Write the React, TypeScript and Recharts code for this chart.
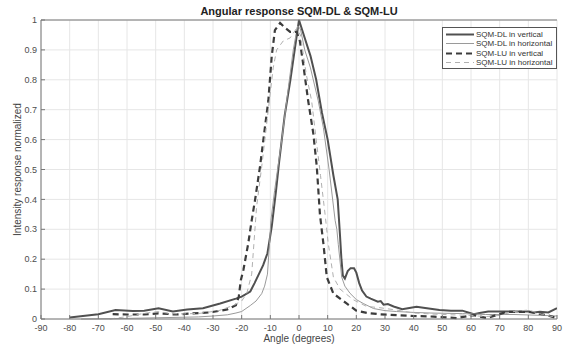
import React from 'react';
import { LineChart, Line, XAxis, YAxis, CartesianGrid, Legend, Label } from 'recharts';

const xTicks = [-90, -80, -70, -60, -50, -40, -30, -20, -10, 0, 10, 20, 30, 40, 50, 60, 70, 80, 90];
const yTicks = [0, 0.1, 0.2, 0.3, 0.4, 0.5, 0.6, 0.7, 0.8, 0.9, 1];

const titleText = 'Angular response SQM-DL & SQM-LU';
const xLabelText = 'Angle (degrees)';
const yLabelText = 'Intensity response normalized';

const seriesNames = ['SQM-DL in vertical', 'SQM-DL in horizontal', 'SQM-LU in vertical', 'SQM-LU in horizontal'];

const dlVerticalPts: [number, number][] = [
  [-80, 0.005], [-70, 0.016], [-64, 0.03], [-58, 0.027], [-54, 0.028], [-49, 0.036], [-44, 0.025],
  [-39, 0.032], [-33.5, 0.036], [-27.5, 0.052], [-22, 0.068], [-20, 0.075], [-17, 0.092], [-15.5, 0.12],
  [-14, 0.15], [-12.5, 0.18], [-11, 0.22], [-9.5, 0.31], [-8, 0.43], [-7, 0.52], [-5, 0.68], [-3, 0.8],
  [-1.5, 0.9], [0, 1.0], [2, 0.94], [4, 0.88], [6, 0.8], [8, 0.69], [10, 0.6], [12, 0.48], [13.5, 0.4],
  [14.3, 0.28], [14.8, 0.2], [15.3, 0.145], [16, 0.135], [17, 0.16], [18, 0.17], [19.2, 0.17], [20, 0.155],
  [21, 0.12], [22, 0.095], [23.5, 0.075], [25, 0.068], [27.5, 0.058], [28.5, 0.06], [29.5, 0.048], [31, 0.05],
  [33, 0.042], [36, 0.033], [38, 0.036], [41, 0.041], [44, 0.037], [49, 0.03], [53, 0.028], [57, 0.028],
  [59, 0.022], [61, 0.016], [63, 0.02], [66, 0.025], [70, 0.025], [75, 0.025], [80, 0.025], [82, 0.022],
  [84, 0.024], [87, 0.022], [90, 0.036],
];

const dlHorizontalPts: [number, number][] = [
  [-76, 0], [-65, 0.001], [-60, 0.002], [-50, 0.004], [-40, 0.006], [-35, 0.007], [-30, 0.01], [-25, 0.014],
  [-22, 0.02], [-20, 0.025], [-17, 0.045], [-15, 0.06], [-13, 0.085], [-12, 0.11], [-11, 0.15], [-10.3, 0.25],
  [-9.8, 0.33], [-8.5, 0.43], [-6, 0.6], [-4.3, 0.73], [-2, 0.9], [-0.5, 0.98], [0.5, 0.97], [2, 0.9],
  [4, 0.84], [6.7, 0.73], [8.5, 0.64], [10.5, 0.5], [12.6, 0.33], [13.2, 0.3], [13.7, 0.25], [14.9, 0.14],
  [16, 0.11], [17.8, 0.086], [20, 0.065], [22.4, 0.052], [26, 0.035], [30, 0.028], [34, 0.025], [40, 0.022],
  [46, 0.02], [57, 0.018], [65, 0.015], [75, 0.015], [85, 0.012], [90, 0.01],
];

const luVerticalPts: [number, number][] = [
  [-65, 0.016], [-60, 0.015], [-54, 0.015], [-49, 0.019], [-43, 0.015], [-37, 0.019], [-31, 0.022],
  [-25, 0.032], [-22, 0.046], [-21, 0.075], [-20.3, 0.13], [-19.4, 0.164], [-17.7, 0.253], [-16.5, 0.33],
  [-15.3, 0.4], [-13.6, 0.51], [-11.9, 0.64], [-10.7, 0.73], [-9.5, 0.88], [-8.4, 0.966], [-6.6, 0.99],
  [-5, 0.975], [-3.1, 0.96], [-0.8, 0.96], [0.3, 0.93], [1.5, 0.85], [3.2, 0.73], [5, 0.62], [6.2, 0.51],
  [7.3, 0.35], [8.5, 0.253], [9.7, 0.14], [12, 0.085], [16.6, 0.052], [20, 0.028], [24, 0.02], [28, 0.016],
  [34, 0.013], [40, 0.01], [47, 0.008], [55, 0.003], [61, 0.013], [65.5, 0.003], [72.5, 0.024], [80, 0.024],
  [86.4, 0.013], [90, 0.003],
];

const luHorizontalPts: [number, number][] = [
  [-66, 0], [-60, 0.008], [-54, 0.019], [-49, 0.025], [-45, 0.018], [-40, 0.017], [-34.5, 0.019], [-28, 0.028],
  [-23, 0.045], [-20, 0.06], [-18.2, 0.086], [-16.5, 0.15], [-15.9, 0.23], [-14.8, 0.375], [-13, 0.51],
  [-10.7, 0.7], [-9, 0.84], [-7.8, 0.9], [-5.5, 0.93], [-3.1, 0.94], [-1, 0.97], [0.5, 0.95], [2.5, 0.82],
  [4.4, 0.73], [6, 0.6], [7.5, 0.48], [9.1, 0.35], [10.2, 0.253], [12, 0.14], [14.3, 0.1], [19, 0.064],
  [23.6, 0.042], [28, 0.038], [34, 0.03], [40, 0.02], [50, 0.015], [60, 0.012], [65, 0.008], [70, 0.012],
  [75, 0.025], [80, 0.03], [85, 0.015], [90, 0.005],
];

const toRows = (pts: [number, number][]) => pts.map(([a, v]) => ({ a, v }));

const seriesStyles = [
  { color: '#505050', width: 2, dash: undefined as string | undefined },
  { color: '#9a9a9a', width: 1, dash: undefined as string | undefined },
  { color: '#3c3c3c', width: 2.2, dash: '6 4' },
  { color: '#b0b0b0', width: 1, dash: '5 4' },
];

const seriesData = [dlVerticalPts, dlHorizontalPts, luVerticalPts, luHorizontalPts].map(toRows);

const FONT = '"Liberation Sans", Arial, sans-serif';
const tickStyle = { fontSize: 9, fill: '#4d4d4d', fontFamily: FONT };

const renderLegend = () => (
  <div
    style={{
      background: '#fff',
      border: '1px solid #555',
      width: 113,
      padding: '2px 0 1px 0',
      fontFamily: FONT,
      fontSize: 8,
      color: '#333',
      boxSizing: 'content-box',
    }}
  >
    {seriesNames.map((n, i) => (
      <div key={n} style={{ display: 'flex', alignItems: 'center', height: 9.3 }}>
        <svg width={33} height={9} style={{ flex: 'none' }}>
          <line
            x1={3}
            x2={31}
            y1={4.5}
            y2={4.5}
            stroke={seriesStyles[i].color}
            strokeWidth={seriesStyles[i].width}
            strokeDasharray={seriesStyles[i].dash}
          />
        </svg>
        <span style={{ whiteSpace: 'nowrap' }}>{n}</span>
      </div>
    ))}
  </div>
);

export default function App() {
  return (
    <div style={{ position: 'absolute', left: 0, top: 0, width: 567, height: 345, background: '#fff' }}>
      <LineChart width={567} height={345} margin={{ top: 0, right: 10, bottom: 0, left: 0 }}>
        <CartesianGrid xAxisId="b" yAxisId="l" stroke="#e6e6e6" strokeWidth={1} />
        <XAxis
          xAxisId="b"
          dataKey="a"
          type="number"
          domain={[-90, 90]}
          ticks={xTicks}
          allowDataOverflow
          height={26}
          tickSize={-4}
          tickMargin={10}
          tick={tickStyle}
          stroke="#777"
          interval={0}
        >
          <Label
            value={xLabelText}
            position="insideBottom"
            offset={3}
            style={{ fontSize: 10, fill: '#444', fontFamily: FONT }}
          />
        </XAxis>
        <XAxis
          xAxisId="t"
          orientation="top"
          type="number"
          domain={[-90, 90]}
          ticks={xTicks}
          allowDataOverflow
          height={20}
          tickSize={-4}
          tick={false}
          stroke="#777"
          interval={0}
        >
          <Label
            content={({ viewBox }: any) => (
              <text
                x={viewBox.x + viewBox.width / 2}
                y={viewBox.y + 15}
                textAnchor="middle"
                style={{ fontSize: 11, fontWeight: 'bold', fill: '#222', fontFamily: FONT }}
              >
                {titleText}
              </text>
            )}
          />
        </XAxis>
        <YAxis
          yAxisId="l"
          type="number"
          domain={[0, 1]}
          ticks={yTicks}
          width={41}
          tickSize={-4}
          tickMargin={8}
          tick={tickStyle}
          stroke="#777"
          interval={0}
          tickFormatter={(v: number) => String(Math.round(v * 10) / 10)}
        >
          <Label
            content={({ viewBox }: any) => (
              <text
                x={viewBox.x + 17}
                y={viewBox.y + viewBox.height / 2}
                transform={`rotate(-90 ${viewBox.x + 17} ${viewBox.y + viewBox.height / 2})`}
                textAnchor="middle"
                dominantBaseline="central"
                style={{ fontSize: 10, fill: '#444', fontFamily: FONT }}
              >
                {yLabelText}
              </text>
            )}
          />
        </YAxis>
        <YAxis
          yAxisId="r"
          orientation="right"
          type="number"
          domain={[0, 1]}
          ticks={yTicks}
          width={0}
          tickSize={-4}
          tick={false}
          stroke="#777"
          interval={0}
        />
        <Legend
          content={renderLegend}
          layout="horizontal"
          verticalAlign="middle"
          align="center"
          wrapperStyle={{ position: 'absolute', left: 442, top: 27, width: 115 }}
        />
        {seriesData.map((d, i) => (
          <Line
            key={seriesNames[i]}
            xAxisId="b"
            yAxisId="l"
            data={d}
            dataKey="v"
            name={seriesNames[i]}
            type="linear"
            stroke={seriesStyles[i].color}
            strokeWidth={seriesStyles[i].width}
            strokeDasharray={seriesStyles[i].dash}
            dot={false}
            activeDot={false}
            isAnimationActive={false}
          />
        ))}
      </LineChart>
    </div>
  );
}
